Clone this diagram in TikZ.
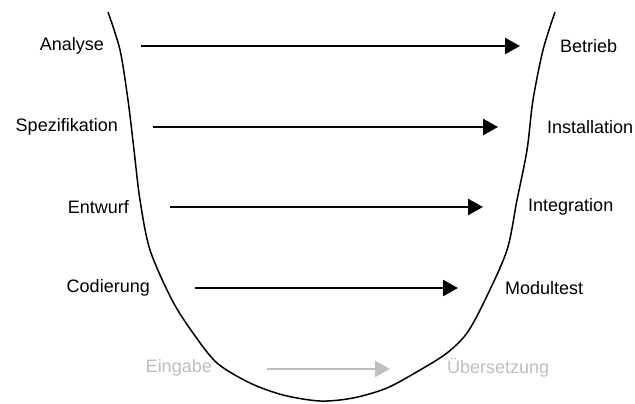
\documentclass[tikz,border=0pt]{standalone}
\usepackage{fontspec}
\setmainfont{Liberation Sans}
\usepackage{xcolor}
\usetikzlibrary{arrows.meta}
\definecolor{lightgray}{RGB}{190,190,190}

\tikzset{
	phase/.style={inner sep=0pt, font=\fontsize{18bp}{21bp}\selectfont},
	flow/.style={line width=2.5bp, -{Triangle[length=15bp, width=16bp]}},
}

\begin{document}
\begin{tikzpicture}[x=1bp, y=-1bp]
			\useasboundingbox (0,0) rectangle (635,403);
			
			% left side
			\node[phase, anchor=east] (ana) at (104,46) {Analyse};
			\node[phase, anchor=east] (spe) at (118,127) {Spezifikation};
			\node[phase, anchor=east] (ent) at (129,207) {Entwurf};
			\node[phase, anchor=east] (cod) at (150,288) {Codierung};
			\node[phase, anchor=east, text=lightgray] (ein) at (212,368) {Eingabe};
			
			% right side
			\node[phase, anchor=west] (bet) at (560,46) {Betrieb};
			\node[phase, anchor=west] (ins) at (547,127) {Installation};
			\node[phase, anchor=west] (int) at (528,207) {Integration};
			\node[phase, anchor=west] (mod) at (505,288) {Modultest};
			\node[phase, anchor=west, text=lightgray] (ueb) at (447,368) {Übersetzung};
			
			\coordinate (a1) at (141,46);  \coordinate (b1) at (520,46);
			\coordinate (a2) at (153,127); \coordinate (b2) at (498,127);
			\coordinate (a3) at (170,207); \coordinate (b3) at (483,207);
			\coordinate (a4) at (195,288); \coordinate (b4) at (458,288);
			\coordinate (a5) at (267,369); \coordinate (b5) at (390,369);
			
			\draw[flow] (a1) -- (b1);
			\draw[flow] (a2) -- (b2);
			\draw[flow] (a3) -- (b3);
			\draw[flow] (a4) -- (b4);
			\draw[flow, lightgray] (a5) -- (b5);
			
			% the U
			\draw[line width=1.5bp] plot[smooth, tension=0.5] coordinates {
				(108,12) (120,50) (128,100) (134,150) (140,200) (150,250) (172,300) (193,333)
				(217,363) (250,383) (283,395) (320,401) (353,398) (387,388) (420,370) (447,353)
				(467,333) (485,300) (507,250) (517,200) (527,150) (533,100) (543,50) (555,12)};

		\end{tikzpicture}
\end{document}
